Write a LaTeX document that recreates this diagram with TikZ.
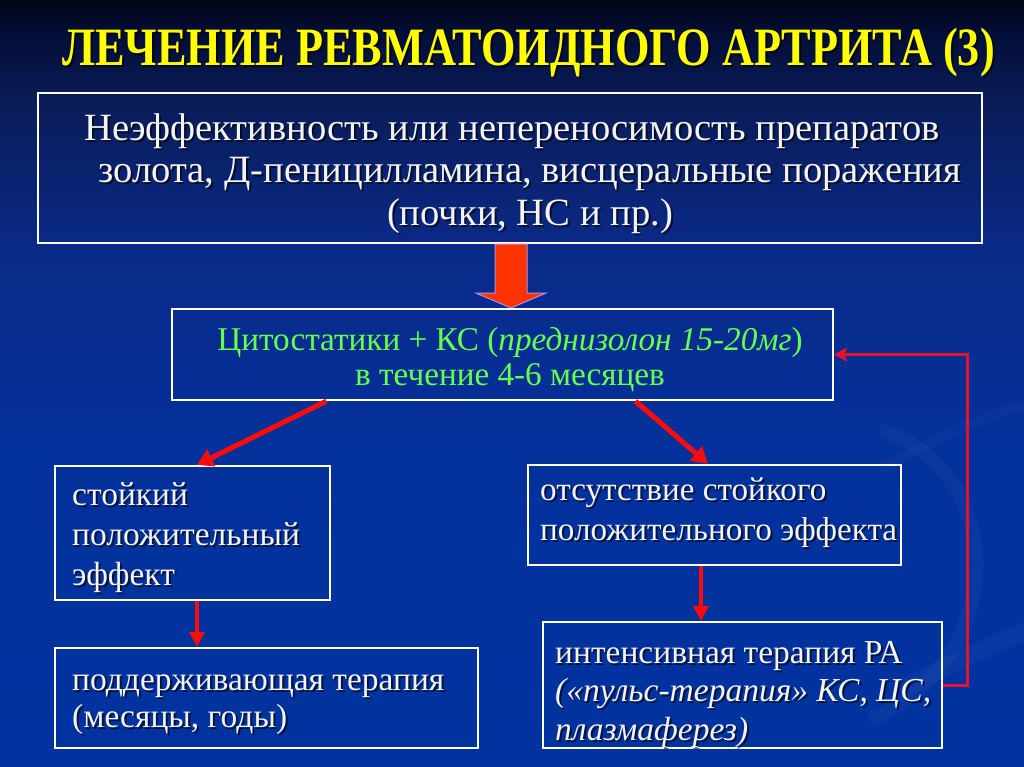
\documentclass[tikz,border=0pt]{standalone}
\usepackage{fontspec}
\setmainfont{Liberation Serif}
\newfontfamily\bodyfont{Liberation Serif}
\newfontfamily\titlefont{Liberation Serif Bold}[FakeStretch=0.82]
\usetikzlibrary{arrows.meta,calc}
\definecolor{bg0}{HTML}{000514}
\definecolor{bg1}{HTML}{030D35}
\definecolor{bg2}{HTML}{0A1C58}
\definecolor{bg3}{HTML}{0A2A88}
\definecolor{bg4}{HTML}{03319C}
\definecolor{bg5}{HTML}{0033A0}
\definecolor{titleyellow}{HTML}{FFFF00}
\definecolor{txtwhite}{HTML}{F4F4F4}
\definecolor{txtgreen}{HTML}{66FF4D}
\definecolor{arrred}{HTML}{FF0A0A}
\definecolor{fbred}{HTML}{E8102A}
\definecolor{bigred}{HTML}{FF3300}
\definecolor{lav}{HTML}{B090E0}
\pgfdeclareverticalshading{bgshade}{100bp}{color(0bp)=(bg5); color(25bp)=(bg5); color(45.6bp)=(bg4); color(58.7bp)=(bg3); color(68.5bp)=(bg2); color(73bp)=(bg1); color(75bp)=(bg0); color(100bp)=(bg0)}
\newcommand\shnode[4]{%
  \node[#3, text=black, opacity=0.6, xshift=2bp, yshift=-2bp] (#1s) at (#2) {#4};
  \node[#3] (#1) at (#2) {#4};}
\tikzset{
  box/.style={draw=white, line width=2.2bp, inner sep=0pt},
  titletext/.style={text=titleyellow, inner sep=0pt, anchor=base, font=\titlefont\fontsize{54bp}{60bp}\selectfont},
  wtext/.style={text=txtwhite, inner sep=0pt},
  redarrow/.style={draw=arrred, line width=5bp, -{Triangle[length=16bp,width=18bp]}},
  downarrow/.style={draw=arrred, line width=4bp, -{Triangle[length=15bp,width=15bp]}},
  fbarrow/.style={draw=fbred, line width=3bp, -{Stealth[length=13bp,width=14bp,inset=3bp]}},
}
\begin{document}
\begin{tikzpicture}[x=1bp,y=-1bp]
\useasboundingbox (0,0) rectangle (1024,767);
\shade[shading=bgshade] (0,0) rectangle (1024,767);
% decorative swooshes
\draw[white, opacity=0.03, line width=14bp] (870,720) .. controls (1010,660) and (1010,470) .. (880,430);
\draw[white, opacity=0.03, line width=18bp] (900,690) .. controls (960,660) and (1000,640) .. (1030,630);
\draw[white, opacity=0.025, line width=10bp] (880,470) .. controls (950,430) and (1000,410) .. (1030,405);
% title
\shnode{title}{528.5,66}{titletext}{ЛЕЧЕНИЕ РЕВМАТОИДНОГО АРТРИТА (3)}
% boxes
\node[box, minimum width=944bp, minimum height=150bp] (b1) at (510,168) {};
\node[box, minimum width=661bp, minimum height=91bp] (b2) at (502.5,354.5) {};
\node[box, minimum width=275bp, minimum height=134bp] (b3) at (192.5,533) {};
\node[box, minimum width=373bp, minimum height=100bp] (b4) at (714.5,515) {};
\node[box, minimum width=423bp, minimum height=100bp] (b5) at (266.5,698) {};
\node[box, minimum width=399bp, minimum height=126bp] (b6) at (742.5,685) {};
% texts (base anchor = baseline of the last line)
\shnode{t1}{530,225}{wtext, anchor=base, align=center, font=\bodyfont\fontsize{38.6bp}{42.5bp}\selectfont}{Неэффективность или непереносимость препаратов\hspace*{36bp}\\ золота, Д-пеницилламина, висцеральные поражения\\ (почки, НС и пр.)}
\node[text=txtgreen, inner sep=0pt, anchor=base, align=center, font=\bodyfont\fontsize{33.2bp}{35bp}\selectfont] (t2) at (510,385) {Цитостатики + КС (\textit{преднизолон 15-20мг})\\ в течение 4-6 месяцев};
\shnode{t3}{72,585}{wtext, anchor=base west, align=left, font=\bodyfont\fontsize{33.5bp}{40bp}\selectfont}{стойкий\\ положительный\\ эффект}
\shnode{t4}{540,540}{wtext, anchor=base west, align=left, font=\bodyfont\fontsize{33.2bp}{40bp}\selectfont}{отсутствие стойкого\\ положительного эффекта}
\shnode{t5}{72,727}{wtext, anchor=base west, align=left, font=\bodyfont\fontsize{33.5bp}{37bp}\selectfont}{поддерживающая терапия\\ (месяцы, годы)}
\shnode{t6}{555,740}{wtext, anchor=base west, align=left, font=\bodyfont\fontsize{33.5bp}{38.5bp}\selectfont}{интенсивная терапия РА\\ \textit{(«пульс-терапия» КС, ЦС,}\\ \textit{плазмаферез)}}
% big arrow b1 -> b2
\draw[fill=bigred, draw=lav, line width=1bp]
  ($(b1.south)+(-15,0)$) -- ($(b1.south)+(17,0)$) -- ($(b1.south)+(17,49)$)
  -- ($(b1.south)+(36,49)$) -- ($(b2.north)+(8.5,0)$) -- ($(b1.south)+(-34,49)$)
  -- ($(b1.south)+(-15,49)$) -- cycle;
% connectors
\coordinate (s2l) at ($(b2.south west)!0.2345!(b2.south east)$);
\coordinate (s2r) at ($(b2.south west)!0.7005!(b2.south east)$);
\coordinate (n3) at ($(b3.north west)!0.516!(b3.north east)$);
\coordinate (n4) at ($(b4.north west)!0.4826!(b4.north east)$);
\coordinate (s3) at ($(b3.south)+(4.5,0)$);
\coordinate (s4) at ($(b4.south)+(-13.5,0)$);
\draw[redarrow] (s2l) -- (n3);
\draw[redarrow] (s2r) -- (n4);
\draw[downarrow] (s3) -- (s3 |- b5.north);
\draw[downarrow] (s4) -- (s4 |- b6.north);
\draw[fbarrow] (b6.east) -- ++(24,0) |- (b2.east);
\end{tikzpicture}
\end{document}
